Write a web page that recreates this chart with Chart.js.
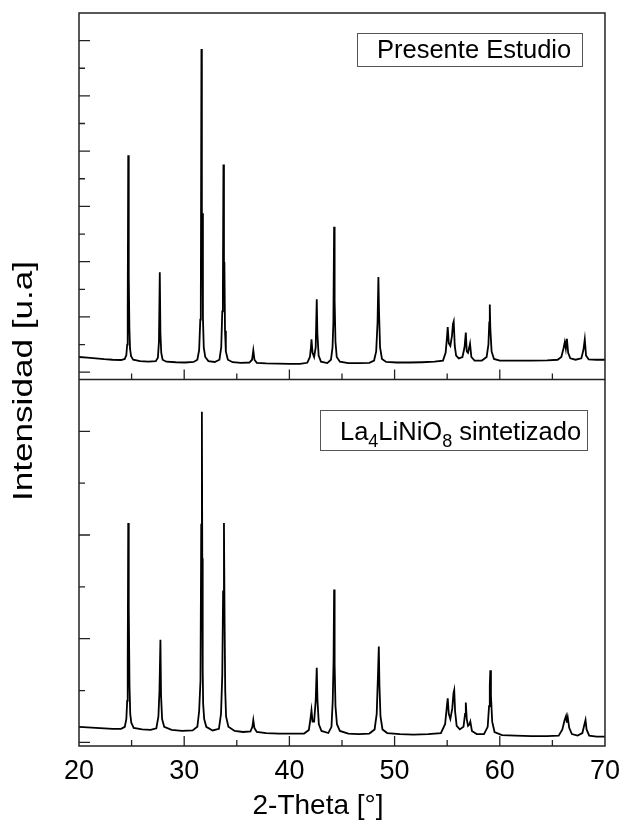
<!DOCTYPE html>
<html>
<head>
<meta charset="utf-8">
<script src="https://cdn.jsdelivr.net/npm/chart.js@4.4.0/dist/chart.umd.min.js"></script>
<style>
  html, body { margin: 0; padding: 0; background: #fff; }
</style>
</head>
<body>
<canvas id="xrdChart" width="629" height="827"></canvas>
<script>
// top panel: "Presente Estudio" (2-theta, intensity a.u.)
const topTheta = [20.0, 20.8, 21.6, 22.4, 23.2, 24.0, 24.35, 24.5, 24.58, 24.63, 24.68, 24.71, 24.75, 24.79, 24.85, 24.95,
  25.15, 25.8, 26.6, 27.3, 27.5, 27.6, 27.68, 27.74, 27.82, 27.95, 28.3, 29.2, 30.1, 30.9,
  31.25, 31.42, 31.53, 31.58, 31.64, 31.68, 31.72, 31.78, 31.86, 32.0, 32.3, 32.9,
  33.35, 33.52, 33.62, 33.68, 33.73, 33.78, 33.82, 33.88, 33.96, 34.15, 34.6, 35.4,
  36.2, 36.45, 36.57, 36.68, 36.9, 37.8, 38.9, 40.0, 41.0, 41.7, 41.95, 42.05, 42.1, 42.2,
  42.35, 42.5, 42.6, 42.66, 42.78, 43.0, 43.6, 43.95, 44.1, 44.18, 44.25, 44.3, 44.38, 44.5,
  44.8, 45.6, 46.6, 47.6, 48.05, 48.25, 48.38, 48.46, 48.52, 48.62, 48.8, 49.2, 50.2, 51.4,
  52.6, 53.8, 54.6, 54.85, 54.98, 55.05, 55.15, 55.3, 55.45, 55.55, 55.62, 55.72, 55.85, 56.1,
  56.45, 56.65, 56.77, 56.86, 56.98, 57.1, 57.17, 57.3, 57.6, 58.3, 58.75, 58.92, 59.0, 59.05,
  59.1, 59.22, 59.45, 60.0, 61.5, 63.0, 64.5, 65.5, 65.85, 66.05, 66.18, 66.28, 66.38, 66.5,
  66.7, 67.2, 67.75, 67.95, 68.08, 68.2, 68.45, 69.2, 70.0];
const topCounts = [0.55, 0.53, 0.5, 0.47, 0.45, 0.44, 0.48, 0.62, 1.0, 2.2, 7.85, 3.2, 3.47, 1.6, 0.85, 0.58,
  0.45, 0.4, 0.38, 0.4, 0.52, 1.1, 3.62, 1.4, 0.7, 0.45, 0.38, 0.36, 0.35, 0.37,
  0.45, 0.8, 1.9, 2.4, 11.7, 5.0, 5.75, 2.0, 0.9, 0.55, 0.4, 0.37,
  0.45, 0.9, 2.2, 3.0, 7.52, 3.2, 3.99, 1.5, 0.75, 0.45, 0.36, 0.34,
  0.35, 0.45, 0.79, 0.45, 0.34, 0.32, 0.31, 0.3, 0.3, 0.34, 0.55, 0.9, 1.19, 0.7,
  0.55, 0.9, 2.64, 1.4, 0.6, 0.38, 0.33, 0.45, 0.9, 1.8, 5.26, 2.6, 1.1, 0.55,
  0.38, 0.33, 0.33, 0.34, 0.42, 0.75, 1.8, 3.44, 2.2, 0.9, 0.48, 0.37, 0.35, 0.35,
  0.36, 0.38, 0.42, 0.7, 1.25, 1.63, 1.05, 0.95, 1.3, 1.75, 1.84, 0.95, 0.6, 0.5,
  0.55, 0.9, 1.43, 0.75, 0.7, 0.9, 1.03, 0.55, 0.42, 0.42, 0.55, 1.0, 1.8, 2.45,
  1.6, 0.75, 0.48, 0.42, 0.42, 0.42, 0.43, 0.45, 0.55, 0.85, 1.09, 0.85, 1.21, 0.7,
  0.5, 0.45, 0.5, 0.8, 1.19, 0.6, 0.46, 0.45, 0.45];

// bottom panel: "La4LiNiO8 sintetizado"
const bottomTheta = [20.0, 20.8, 21.6, 22.4, 23.2, 24.0, 24.35, 24.5, 24.58, 24.63, 24.68, 24.71, 24.75, 24.8, 24.87, 24.97,
  25.2, 26.0, 26.8, 27.35, 27.55, 27.65, 27.74, 27.8, 27.9, 28.1, 28.8, 29.8, 30.8,
  31.25, 31.42, 31.55, 31.62, 31.68, 31.72, 31.76, 31.8, 31.9, 32.1, 32.7,
  33.3, 33.5, 33.62, 33.7, 33.78, 33.84, 33.9, 33.98, 34.2, 34.8, 35.6,
  36.3, 36.48, 36.57, 36.67, 36.9, 37.8, 39.0, 40.2, 41.4, 41.85, 42.0, 42.1, 42.2,
  42.35, 42.5, 42.6, 42.67, 42.8, 43.05, 43.7, 44.0, 44.12, 44.2, 44.25, 44.3, 44.38, 44.52,
  44.8, 45.6, 46.6, 47.6, 48.1, 48.3, 48.42, 48.5, 48.56, 48.66, 48.85, 49.3, 50.5, 51.8,
  53.2, 54.4, 54.8, 54.95, 55.05, 55.15, 55.3, 55.48, 55.6, 55.67, 55.75, 55.9, 56.2,
  56.55, 56.7, 56.77, 56.86, 56.98, 57.12, 57.2, 57.35, 57.8, 58.5, 58.85, 58.98, 59.05, 59.1,
  59.16, 59.28, 59.5, 60.2, 61.5, 63.0, 64.5, 65.6, 65.95, 66.15, 66.3, 66.38, 66.46, 66.6,
  66.85, 67.4, 67.85, 68.05, 68.15, 68.25, 68.5, 69.2, 70.0];
const bottomCounts = [0.3, 0.29, 0.28, 0.27, 0.26, 0.26, 0.3, 0.45, 0.8, 1.5, 4.23, 2.2, 2.59, 1.1, 0.55, 0.38,
  0.28, 0.25, 0.24, 0.27, 0.5, 1.0, 1.98, 0.9, 0.45, 0.3, 0.24, 0.22, 0.23,
  0.3, 0.6, 1.2, 4.2, 6.38, 3.55, 1.4, 0.75, 0.45, 0.3, 0.23,
  0.26, 0.55, 1.3, 2.91, 4.23, 2.32, 1.0, 0.5, 0.3, 0.22, 0.2,
  0.21, 0.3, 0.43, 0.28, 0.2, 0.18, 0.17, 0.17, 0.17, 0.24, 0.45, 0.62, 0.4,
  0.4, 0.8, 1.44, 0.8, 0.35, 0.22, 0.18, 0.3, 0.8, 1.6, 2.95, 1.5, 0.7, 0.35,
  0.22, 0.17, 0.16, 0.17, 0.25, 0.55, 1.3, 1.85, 1.1, 0.5, 0.25, 0.18, 0.16, 0.15,
  0.16, 0.18, 0.35, 0.65, 0.85, 0.55, 0.45, 0.65, 0.95, 1.01, 0.6, 0.32, 0.25,
  0.3, 0.55, 0.77, 0.45, 0.32, 0.35, 0.4, 0.22, 0.16, 0.16, 0.3, 0.7, 1.1, 1.39,
  0.9, 0.4, 0.2, 0.14, 0.13, 0.12, 0.12, 0.13, 0.25, 0.42, 0.51, 0.38, 0.48, 0.28,
  0.16, 0.13, 0.18, 0.35, 0.43, 0.25, 0.13, 0.11, 0.11];

const xTickLabels = [20, 30, 40, 50, 60, 70];

const FONT = "'Liberation Sans', Arial, sans-serif";

function toPoints(xs, ys) {
  let pts = [];
  for (let i = 0; i < xs.length; i++) {
    pts.push({x: xs[i], y: ys[i]});
  }
  return pts;
}

// frame, inward ticks, legend boxes and axis titles
const decorations = {
  id: 'decorations',
  afterDatasetsDraw(chart) {
    const c = chart.ctx;
    const area = chart.chartArea;
    const x = chart.scales.x;
    const yTop = chart.scales.yTop;
    const yBot = chart.scales.yBottom;
    const mid = yTop.bottom;

    c.save();
    c.strokeStyle = '#222';
    c.lineWidth = 1.5;
    c.strokeRect(area.left, area.top, area.right - area.left, area.bottom - area.top);
    c.beginPath();
    c.moveTo(area.left, mid);
    c.lineTo(area.right, mid);
    c.stroke();

    // x ticks on the bottom of both panels
    c.lineWidth = 1.3;
    c.beginPath();
    for (let v = 25; v < 70; v += 5) {
      const px = x.getPixelForValue(v);
      const len = v % 10 === 0 ? 10 : 6;
      c.moveTo(px, mid);
      c.lineTo(px, mid - len);
      c.moveTo(px, area.bottom);
      c.lineTo(px, area.bottom - len);
    }
    // y ticks
    for (let v = 0; v <= 12; v++) {
      const py = yTop.getPixelForValue(v);
      c.moveTo(area.left, py);
      c.lineTo(area.left + (v % 2 === 0 ? 11 : 6), py);
    }
    for (let v = 0; v <= 6; v++) {
      const py = yBot.getPixelForValue(v);
      c.moveTo(area.left, py);
      c.lineTo(area.left + (v % 2 === 0 ? 11 : 6), py);
    }
    c.stroke();

    // legend boxes
    c.strokeStyle = '#555';
    c.lineWidth = 1;
    c.strokeRect(357.5, 33.5, 225, 33);
    c.strokeRect(320.5, 410.5, 267, 40);
    c.fillStyle = '#000';
    c.textBaseline = 'alphabetic';
    c.textAlign = 'left';
    c.font = '25.5px ' + FONT;
    c.fillText('Presente Estudio', 377, 58);

    let tx = 340;
    const base = 440;
    const parts = [['La', 0], ['4', 1], ['LiNiO', 0], ['8', 1], [' sintetizado', 0]];
    for (let p of parts) {
      c.font = (p[1] ? '18px ' : '25.5px ') + FONT;
      c.fillText(p[0], tx, p[1] ? base + 7 : base);
      tx += c.measureText(p[0]).width;
    }

    // x title, centred on the page like the original
    c.textAlign = 'center';
    c.textBaseline = 'middle';
    c.font = '28px ' + FONT;
    c.fillText('2-Theta [°]', 318, 806);

    // y title
    c.translate(25, 381);
    c.rotate(-Math.PI / 2);
    c.scale(1.3, 1);
    c.font = '27px ' + FONT;
    c.fillText('Intensidad [u.a]', 0, 0);
    c.restore();
  }
};

const ctx = document.getElementById('xrdChart').getContext('2d');
const lineStyle = { borderColor: '#000', borderWidth: 1.8, pointRadius: 0, tension: 0, fill: false };

const xrdChart = new Chart(ctx, {
  type: 'line',
  data: {
    datasets: [
      Object.assign({ label: 'La4LiNiO8 sintetizado', data: toPoints(bottomTheta, bottomCounts), yAxisID: 'yBottom' }, lineStyle),
      Object.assign({ label: 'Presente Estudio', data: toPoints(topTheta, topCounts), yAxisID: 'yTop' }, lineStyle)
    ]
  },
  options: {
    responsive: false,
    animation: false,
    layout: { padding: { top: 13, right: 16, left: 0, bottom: 0 } },
    plugins: { legend: { display: false }, tooltip: { enabled: false } },
    scales: {
      x: {
        type: 'linear', min: 20, max: 70,
        afterBuildTicks: axis => { axis.ticks = xTickLabels.map(v => ({ value: v })); },
        ticks: { font: { family: FONT, size: 27 }, color: '#000', padding: 9, maxRotation: 0 },
        grid: { display: false, drawTicks: false },
        border: { display: false },
        title: { display: false },
        afterFit: s => { s.height = 81; }
      },
      yBottom: {
        type: 'linear', position: 'left', stack: 'xrd', stackWeight: 1,
        min: -0.07, max: 7,
        ticks: { display: false }, grid: { display: false }, border: { display: false },
        afterFit: s => { s.width = 79; }
      },
      yTop: {
        type: 'linear', position: 'left', stack: 'xrd', stackWeight: 1,
        min: -0.265, max: 13,
        ticks: { display: false }, grid: { display: false }, border: { display: false },
        afterFit: s => { s.width = 79; }
      }
    }
  },
  plugins: [decorations]
});
</script>
</body>
</html>
